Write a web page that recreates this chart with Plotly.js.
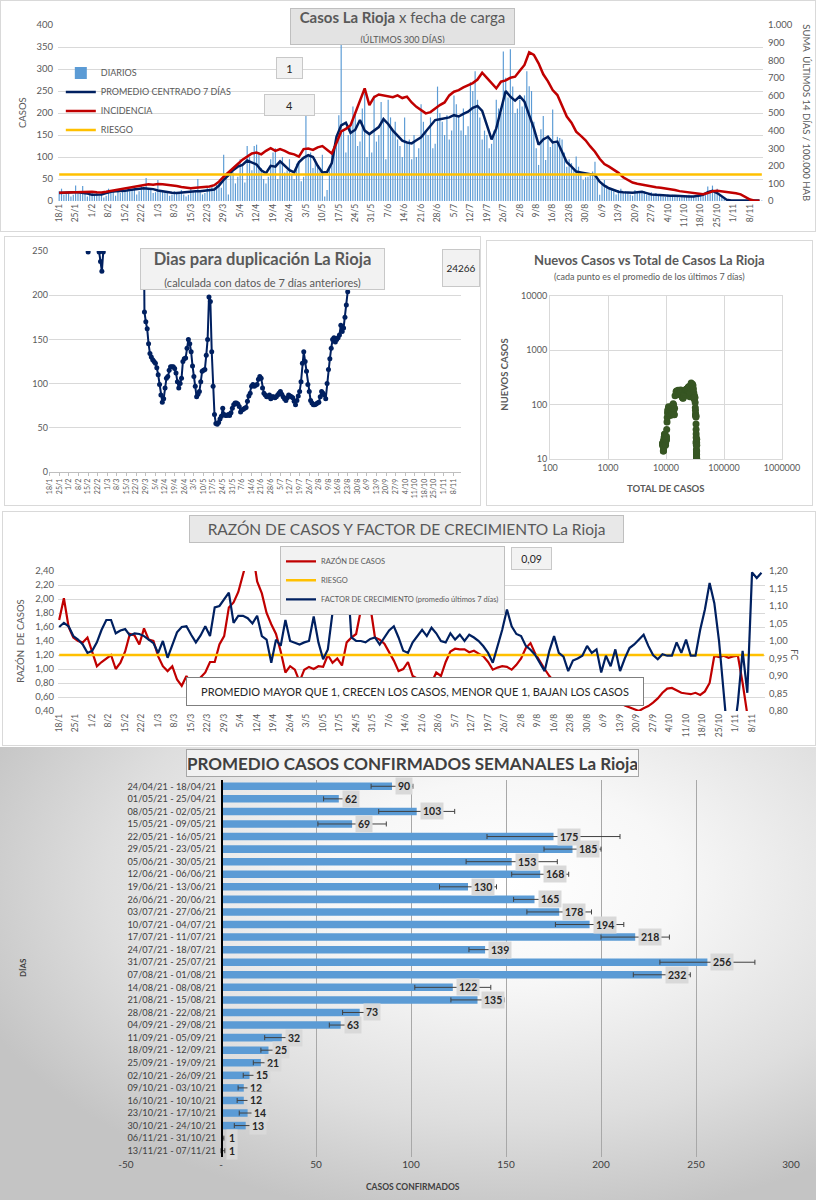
<!DOCTYPE html>
<html><head><meta charset="utf-8">
<script src="https://cdn.plot.ly/plotly-3.0.1.min.js"></script>
<style>
body{margin:0;padding:0;width:816px;height:1200px;position:relative;background:#fff;overflow:hidden}
.p{position:absolute;outline:1px solid #d9d9d9;outline-offset:-1px;background:#fff}
#c1{left:0;top:0;width:816px;height:232px}
#c2{left:4px;top:236px;width:477px;height:270px}
#c3{left:486px;top:240px;width:327px;height:266px}
#c4{left:2px;top:511px;width:814px;height:235px}
#c5{left:0;top:747px;width:816px;height:453px;outline:none;
 background:radial-gradient(ellipse 70% 75% at 62% 30%, #ffffff 0%, #f7f7f7 30%, #dedede 70%, #c4c4c4 100%)}
</style></head>
<body>
<div id="c1" class="p"></div>
<div id="c2" class="p"></div>
<div id="c3" class="p"></div>
<div id="c4" class="p"></div>
<div id="c5" class="p"></div>
<script>
// ---------- DATA ----------
const tickSemanas = ['18/1','25/1','1/2','8/2','15/2','22/2','1/3','8/3','15/3','22/3','29/3','5/4','12/4','19/4','26/4','3/5','10/5','17/5','24/5','31/5','7/6','14/6','21/6','28/6','5/7','12/7','19/7','26/7','2/8','9/8','16/8','23/8','30/8','6/9','13/9','20/9','27/9','4/10','11/10','18/10','25/10','1/11','8/11'];

// casos diarios (18/1 .. 14/11)
const casosDiarios = [
 22,28,15,20,18,10,14, 35,18,22,34,20,10,14, 18,14,20,12,16,8,12, 28,25,20,12,24,18,24,
 30,28,22,25,30,15,22, 35,30,52,28,25,18,20, 48,25,22,20,18,12,15, 22,20,18,25,15,10,14,
 28,22,25,50,20,15,18, 30,28,35,30,40,45,30, 105,60,15,70,65,40,55, 95,80,42,125,100,70,125,
 128,110,75,50,40,55,95, 110,120,50,90,100,65,70, 95,60,50,85,90,45,55, 195,100,110,75,95,80,70,
 105,10,25,80,110,125,150, 195,390,160,110,150,170,215, 200,125,135,210,245,100,150, 110,240,135,150,225,190,95,
 230,190,160,180,140,125,100, 190,130,140,95,150,100,120, 220,180,160,150,190,120,130, 260,200,180,150,195,140,160,
 240,220,195,160,210,150,170, 270,250,295,230,190,140,160, 150,120,130,160,230,210,200, 340,280,235,345,260,200,210,
 230,215,240,295,261,250,180, 120,82,163,193,93,150,123, 208,130,146,143,140,110,78, 95,86,70,101,78,65,48,
 54,55,60,67,89,55,14, 40,48,35,30,28,22,15, 25,28,20,22,18,15,12, 25,22,20,18,22,15,18,
 20,15,18,14,12,10,9, 15,12,14,10,12,8,9, 10,12,14,9,11,8,10, 14,12,18,33,25,35,20,
 28,15,10,5,3,2,1, 1,2,0,1,2,0,1, 1,0,2,1,0,1];

// promedio centrado 7 dias (cada 2 dias)
const promedio7 = [
 18,19,19,20,20,19,17,14,14,15, 18,21,22,22,23,25,26,28,29,28,
 27,24,22,20,19,18,19,21,22,22, 22,23,24,26,35,48,58,70,78,82,
 92,88,83,70,63,80,78,90,80,70, 65,88,98,104,100,80,65,66,86,146,
 172,178,155,162,184,160,152,160,168,186, 175,160,148,137,133,131,138,145,158,170,
 184,186,188,190,195,192,198,203,212,216, 205,172,140,165,205,250,237,228,238,226,
 195,165,128,140,146,133,135,110,88,78, 67,65,63,61,59,44,35,29,25,21,
 20,19,19,20,21,18,15,14,13,12, 12,12,12,11,10,10,12,14,20,23,
 18,10,3,1,1,1,1,1,1,1];

// incidencia: suma 14 dias / 100.000 hab (cada 2 dias)
const incidencia = [
 47,48,50,52,53,52,55,53,50,48, 52,57,60,65,72,75,80,88,92,95,
 93,97,95,93,88,85,80,75,72,75, 78,80,82,90,110,138,160,186,210,235,
 252,270,275,265,285,300,285,295,285,271, 265,252,295,298,290,305,312,290,270,330,
 395,410,430,500,575,640,545,590,605,600, 598,590,600,585,593,560,535,517,498,505,
 527,545,560,600,621,630,645,659,670,690, 729,700,669,640,678,685,700,706,740,773,
 845,830,782,720,680,630,602,540,480,445, 394,370,345,310,280,240,210,195,178,160,
 135,120,105,98,92,88,83,78,75,72, 68,62,56,52,48,46,42,38,45,55,
 58,55,50,47,44,38,25,8,2,1];
const RIESGO_INCIDENCIA = 150;

// dias para duplicacion (desde 26/3 = dia 68)
const DUP_INICIO = 68;
const duplicacion = [
 400,181,170,162,145,134,130,127,125,123, 118,110,99,87,79,83,95,106,108,115,
 119,119,119,117,112,102,95,100,106,125, 128,129,140,150,145,136,120,108,97,85,
 88,91,102,114,115,116,132,150,198,193, 136,97,65,55,54,56,60,63,72,65,
 64,64,65,64,67,72,76,78,78,77, 74,68,70,71,72,73,80,86,89,97,
 99,97,98,99,105,108,106,95,89,87, 85,85,87,83,85,85,84,85,87,89,
 91,88,85,83,81,84,87,86,85,84, 80,76,81,86,91,102,123,136,125,114,
 99,91,81,78,76,76,77,78,79,85, 91,89,87,83,100,116,128,140,150,152,
 147,150,152,155,166,159,163,175,189,204, 219,400];
const dupTempranoDia = [28,29,36,37,38,39];
const dupTemprano = [249,null,249,238,227,249];
const dupTexto = '24266';

const TOTAL_INICIAL = 8700; // total acumulado al 17/1

// razon de casos y factor de crecimiento (cada 2 dias)
const razonCasos = [
 1.70,2.01,1.60,1.45,1.40,1.38,1.45,1.23,1.04,1.10, 1.15,1.20,1.00,1.09,1.25,1.50,1.48,1.35,1.58,1.42,
 1.40,1.18,1.04,0.97,1.04,0.85,0.76,0.90,0.80,0.77, 0.88,0.95,1.10,1.10,1.35,1.47,1.88,1.95,2.10,2.35,
 2.60,2.70,2.25,2.08,1.80,1.64,1.50,1.25,0.95,1.04, 0.99,0.82,0.99,1.03,1.00,1.04,1.03,1.20,1.09,1.15,
 1.05,1.38,1.45,1.50,1.84,2.50,1.90,1.45,1.42,1.36, 1.25,1.12,0.97,1.00,1.10,0.90,0.86,0.85,0.83,0.80,
 0.95,0.90,1.10,1.25,1.29,1.28,1.28,1.24,1.26,1.22, 1.18,1.10,0.99,1.02,1.04,1.03,0.99,1.06,1.15,1.30,
 1.37,1.22,1.10,1.00,0.90,0.82,0.70,0.58,0.55,0.56, 0.56,0.54,0.52,0.52,0.51,0.51,0.50,0.50,0.51,0.52,
 0.48,0.45,0.42,0.40,0.44,0.47,0.52,0.58,0.66,0.72, 0.73,0.69,0.66,0.65,0.64,0.66,0.63,0.68,0.80,1.19,
 1.17,1.19,1.16,1.18,1.19,0.80,0.35,0.30,0.30,0.30];
const factorCrecimiento = [
 1.040,1.052,1.042,1.014,1.004,0.990,0.966,0.972,0.996,1.032, 1.060,1.060,1.022,1.030,1.034,1.016,1.022,1.020,1.014,1.005,
 0.994,0.966,1.000,0.952,0.990,1.025,1.040,1.042,1.018,0.996, 1.016,1.042,1.014,1.096,1.100,1.120,1.138,1.052,1.072,1.072,
 1.065,1.050,1.072,1.014,1.004,0.938,1.004,0.986,1.060,1.000, 0.996,0.990,0.996,1.000,1.070,0.996,0.948,0.976,1.082,1.250,
 1.300,1.220,1.010,1.000,1.000,0.996,1.006,1.010,0.990,1.010, 1.030,1.042,1.010,0.972,0.966,0.996,1.014,1.032,1.014,1.038,
 1.022,1.000,0.996,1.022,1.004,1.018,1.000,1.018,1.010,1.000, 0.985,0.966,0.938,0.986,1.032,1.090,1.042,1.020,1.014,0.986,
 0.975,0.960,0.938,0.914,0.972,1.014,0.966,0.955,0.914,0.944, 0.950,0.958,0.986,0.966,0.976,0.910,0.958,0.928,0.976,0.914,
 0.950,0.980,0.990,1.005,1.018,0.986,0.960,0.948,0.962,0.958, 0.958,0.996,0.966,1.004,0.958,0.958,1.032,1.090,1.166,1.108,
 1.000,0.850,0.700,0.720,0.824,0.972,0.852,1.196,1.180,1.195];
const RIESGO_RAZON = 1.20;
const textoFC = '0,09';

// promedio semanal de casos confirmados
const semanas = ['24/04/21 - 18/04/21','01/05/21 - 25/04/21','08/05/21 - 02/05/21','15/05/21 - 09/05/21','22/05/21 - 16/05/21','29/05/21 - 23/05/21','05/06/21 - 30/05/21','12/06/21 - 06/06/21','19/06/21 - 13/06/21','26/06/21 - 20/06/21','03/07/21 - 27/06/21','10/07/21 - 04/07/21','17/07/21 - 11/07/21','24/07/21 - 18/07/21','31/07/21 - 25/07/21','07/08/21 - 01/08/21','14/08/21 - 08/08/21','21/08/21 - 15/08/21','28/08/21 - 22/08/21','04/09/21 - 29/08/21','11/09/21 - 05/09/21','18/09/21 - 12/09/21','25/09/21 - 19/09/21','02/10/21 - 26/09/21','09/10/21 - 03/10/21','16/10/21 - 10/10/21','23/10/21 - 17/10/21','30/10/21 - 24/10/21','06/11/21 - 31/10/21','13/11/21 - 07/11/21'];
const promedioSemanal = [90,62,103,69,175,185,153,168,130,165,178,194,218,139,256,232,122,135,73,63,32,25,21,15,12,12,14,13,1,1];
const desvioSemanal = [11,8,20,18,35,15,24,15,15,11,17,18,18,8.5,25,15,20,14,9,6,9,4,4,3.3,3,3.5,4.4,6,0.5,1];
const ticksSemanal = [-50,0,50,100,150,200,250,300];
const ticksSemanalTxt = ['-50','-','50','100','150','200','250','300'];

// ---------- DERIVED CATEGORIES ----------
const fechas = [];
for (let i = 0; i < casosDiarios.length; i++) {
  const d = new Date(Date.UTC(2021, 0, 18 + i));
  fechas.push(d.getUTCDate() + '/' + (d.getUTCMonth() + 1));
}
const fechasPares = fechas.filter((_, i) => i % 2 === 0);
const acumulado = []; let s = TOTAL_INICIAL;
casosDiarios.forEach(v => { s += v; acumulado.push(s); });
const acumuladoPares = acumulado.filter((_, i) => i % 2 === 0);

const F = 'Lato, "Open Sans", sans-serif';
const G = '#595959';
const cfg = {staticPlot: true, displayModeBar: false};
const A = (o) => Object.assign({xref:'paper', yref:'paper', xanchor:'center', yanchor:'middle', showarrow:false}, o);
const xCat = (extra) => Object.assign({type:'category', categoryorder:'array', categoryarray:fechas, range:[-0.5, fechas.length-0.5],
  tickvals:tickSemanas, ticktext:tickSemanas, tickangle:-90, showgrid:false, zeroline:false, fixedrange:true}, extra);

// ---------- CHART 1 ----------
Plotly.newPlot('c1', [
  {type:'bar', x:fechas, y:casosDiarios, name:'DIARIOS', marker:{color:'#5B9BD5'}},
  {type:'scatter', mode:'lines', x:fechasPares, y:promedio7, name:'PROMEDIO CENTRADO 7 DÍAS', line:{color:'#002060', width:2.5}},
  {type:'scatter', mode:'lines', x:fechasPares, y:incidencia, name:'INCIDENCIA', yaxis:'y2', line:{color:'#C00000', width:2.5}},
  {type:'scatter', mode:'lines', x:fechas, y:fechas.map(() => RIESGO_INCIDENCIA), name:'RIESGO', yaxis:'y2', line:{color:'#FFC000', width:2.5}}
], {
  width:816, height:232, margin:{l:58, r:53, t:25, b:31},
  paper_bgcolor:'rgba(0,0,0,0)', plot_bgcolor:'rgba(0,0,0,0)', separators:',.',
  font:{family:F, size:9, color:G}, bargap:0.5,
  xaxis: xCat({tickfont:{size:8.5, color:G}}),
  yaxis:{range:[0,400], dtick:50, gridcolor:'#d9d9d9', zeroline:false, tickfont:{size:9.5}, ticklabelstandoff:4},
  yaxis2:{overlaying:'y', side:'right', range:[0,1000], dtick:100, tickformat:',d', showgrid:false, zeroline:false, tickfont:{size:9.5}, ticklabelstandoff:4},
  legend:{x:0.004, y:0.81, xanchor:'left', yanchor:'top', bgcolor:'rgba(0,0,0,0)', font:{size:9, color:G}, itemwidth:30},
  annotations:[
    A({x:0.488, y:0.99, text:'<b>Casos La Rioja</b> x fecha de carga<br><span style="font-size:9px">(ÚLTIMOS 300 DÍAS)</span>',
     width:221, height:33, bgcolor:'#e3e3e3', bordercolor:'#bfbfbf', borderwidth:1, font:{size:15, color:G}}),
    A({x:0.329, y:0.756, text:'1', width:23, height:18, bgcolor:'#f2f2f2', bordercolor:'#c8c8c8', borderwidth:1, font:{size:11, color:'#262626'}}),
    A({x:0.3284, y:0.545, text:'4', width:47, height:18, bgcolor:'#f2f2f2', bordercolor:'#c8c8c8', borderwidth:1, font:{size:11, color:'#262626'}}),
    A({x:-0.051, y:0.5, text:'CASOS', textangle:-90, font:{size:9.5, color:G}}),
    A({x:1.062, y:0.5, text:'SUMA  ÚLTIMOS 14 DÍAS / 100.000 HAB', textangle:90, font:{size:9.5, color:G}})
  ]
}, cfg);

// ---------- CHART 2 ----------
Plotly.newPlot('c2', [
  {type:'scatter', mode:'lines+markers', x:fechas.slice(DUP_INICIO, DUP_INICIO + duplicacion.length), y:duplicacion,
   line:{color:'#002060', width:2}, marker:{color:'#002060', size:5}},
  {type:'scatter', mode:'lines+markers', x:dupTempranoDia.map(i => fechas[i]), y:dupTemprano,
   line:{color:'#002060', width:2}, marker:{color:'#002060', size:5}}
], {
  width:477, height:270, margin:{l:45, r:20, t:15, b:34}, showlegend:false,
  paper_bgcolor:'rgba(0,0,0,0)', plot_bgcolor:'rgba(0,0,0,0)',
  font:{family:F, size:9, color:G},
  xaxis: xCat({tickfont:{size:7, color:G}, showline:true, linecolor:'#bfbfbf', ticks:'outside', ticklen:3, tickcolor:'#bfbfbf'}),
  yaxis:{range:[0,250], dtick:50, gridcolor:'#d9d9d9', zeroline:false, tickfont:{size:9}, fixedrange:true},
  annotations:[
    A({x:0.517, y:0.918, text:'<b>Dias para duplicación La Rioja</b><br><span style="font-size:11px">(calculada con datos de 7 días anteriores)</span>',
     width:241, height:38, bgcolor:'#f2f2f2', bordercolor:'#c8c8c8', borderwidth:1, font:{size:16.5, color:G}}),
    A({x:1.0, y:0.921, text:dupTexto, width:34, height:34, bgcolor:'#f2f2f2', bordercolor:'#c8c8c8', borderwidth:1, font:{size:10, color:'#262626'}})
  ]
}, cfg);

// ---------- CHART 3 ----------
Plotly.newPlot('c3', [
  {type:'scatter', mode:'markers', x:acumuladoPares, y:promedio7, marker:{color:'#375623', size:7}}
], {
  width:327, height:266, margin:{l:64, r:31, t:56, b:47}, showlegend:false,
  paper_bgcolor:'rgba(0,0,0,0)', plot_bgcolor:'rgba(0,0,0,0)',
  font:{family:F, size:9, color:G},
  xaxis:{type:'log', range:[2,6], tickvals:[100,1000,10000,100000,1000000], ticktext:['100','1000','10000','100000','1000000'],
    gridcolor:'#d9d9d9', showline:true, linecolor:'#d9d9d9', mirror:true, zeroline:false, tickfont:{size:9}},
  yaxis:{type:'log', range:[1,4], tickvals:[10,100,1000,10000], ticktext:['10','100','1000','10000'],
    gridcolor:'#d9d9d9', showline:true, linecolor:'#d9d9d9', mirror:true, zeroline:false, tickfont:{size:9}},
  annotations:[
    A({x:0.431, y:1.221, text:'<b>Nuevos Casos vs Total de Casos La Rioja</b>', font:{size:13, color:G}}),
    A({x:0.431, y:1.12, text:'(cada punto es el promedio de los últimos 7 días)', font:{size:9, color:G}}),
    A({x:0.496, y:-0.178, text:'<b>TOTAL DE CASOS</b>', font:{size:9.5, color:G}}),
    A({x:-0.2, y:0.515, text:'<b>NUEVOS CASOS</b>', textangle:-90, font:{size:9.5, color:G}})
  ]
}, cfg);

// ---------- CHART 4 ----------
Plotly.newPlot('c4', [
  {type:'scatter', mode:'lines', x:fechasPares, y:razonCasos, name:'RAZÓN DE CASOS', line:{color:'#C00000', width:2.2}},
  {type:'scatter', mode:'lines', x:fechas, y:fechas.map(() => RIESGO_RAZON), name:'RIESGO', line:{color:'#FFC000', width:2.5}},
  {type:'scatter', mode:'lines', x:fechasPares, y:factorCrecimiento, name:'FACTOR DE CRECIMIENTO (promedio últimos 7 días)', yaxis:'y2', line:{color:'#002060', width:2.2}}
], {
  width:814, height:235, margin:{l:56, r:51, t:60, b:35},
  paper_bgcolor:'rgba(0,0,0,0)', plot_bgcolor:'rgba(0,0,0,0)', separators:',.',
  font:{family:F, size:9, color:G},
  xaxis: xCat({tickfont:{size:8.5, color:G}}),
  yaxis:{range:[0.4,2.4], dtick:0.2, tickformat:'.2f', gridcolor:'#d9d9d9', zeroline:false, tickfont:{size:9.5}, ticklabelstandoff:3},
  yaxis2:{overlaying:'y', side:'right', range:[0.8,1.2], dtick:0.05, tickformat:'.2f', showgrid:false, zeroline:false, tickfont:{size:9.5}, ticklabelstandoff:3},
  legend:{x:0.314, y:1.18, xanchor:'left', yanchor:'top', bgcolor:'#f2f2f2', bordercolor:'#bfbfbf', borderwidth:1, font:{size:7.5, color:G}, itemwidth:30, tracegroupgap:0},
  annotations:[
    A({x:0.4929, y:1.3, text:'RAZÓN DE CASOS Y FACTOR DE CRECIMIENTO La Rioja', width:431, height:24,
     bgcolor:'#e8e8e8', bordercolor:'#bfbfbf', borderwidth:1, font:{size:15.5, color:G}}),
    A({x:0.6704, y:1.086, text:textoFC, width:37, height:19, bgcolor:'#f2f2f2', bordercolor:'#c8c8c8', borderwidth:1, font:{size:10.5, color:'#262626'}}),
    A({x:0.505, y:0.139, text:'PROMEDIO MAYOR QUE 1, CRECEN LOS CASOS, MENOR QUE 1, BAJAN LOS CASOS', width:454, height:25,
     bgcolor:'#ffffff', bordercolor:'#7f7f7f', borderwidth:1, font:{size:11, color:'#262626'}}),
    A({x:-0.054, y:0.5, text:'RAZÓN  DE CASOS', textangle:-90, font:{size:9.5, color:G}}),
    A({x:1.042, y:0.4, text:'FC', textangle:90, font:{size:9, color:G}})
  ]
}, cfg);

// ---------- CHART 5 ----------
const etiquetas = promedioSemanal.map((v, i) => ({
  x:v, y:semanas[i], xref:'x', yref:'y', text:'<b>' + v + '</b>', showarrow:false, xanchor:'left', yanchor:'middle', xshift:3,
  bgcolor:'#d9d9d9', borderpad:2, font:{size:10.5, color:'#262626'}
}));
Plotly.newPlot('c5', [
  {type:'bar', orientation:'h', y:semanas, x:promedioSemanal, width:0.6, marker:{color:'#5B9BD5'},
   error_x:{type:'data', array:desvioSemanal, color:'#404040', thickness:1, width:2.5}}
], {
  width:816, height:453, margin:{l:126, r:25, t:33, b:43}, showlegend:false,
  paper_bgcolor:'rgba(0,0,0,0)', plot_bgcolor:'rgba(0,0,0,0)',
  font:{family:F, size:9, color:'#404040'},
  xaxis:{range:[-50,300], tickvals:ticksSemanal, ticktext:ticksSemanalTxt, gridcolor:'#a8a8a8', zeroline:false, showline:false, tickfont:{size:10, color:'#404040'}},
  yaxis:{type:'category', range:[semanas.length-0.5, -0.5], anchor:'free', position:0.1429, showline:true, linecolor:'#000000', linewidth:1.5,
    showgrid:false, ticks:'', tickfont:{size:9.2, color:'#404040'}, ticklabelstandoff:3},
  annotations: etiquetas.concat([
    A({x:0.431, y:1.046, text:'<b>PROMEDIO CASOS CONFIRMADOS SEMANALES La Rioja</b>', width:449, height:24,
     bgcolor:'rgba(255,255,255,0.5)', bordercolor:'#a6a6a6', borderwidth:1, font:{size:17, color:'#404040'}}),
    A({x:0.4316, y:-0.079, text:'<b>CASOS CONFIRMADOS</b>', font:{size:8.5, color:'#404040'}}),
    A({x:-0.156, y:0.502, text:'<b>DÍAS</b>', textangle:-90, font:{size:8, color:'#404040'}})
  ])
}, cfg);
</script>
</body></html>
